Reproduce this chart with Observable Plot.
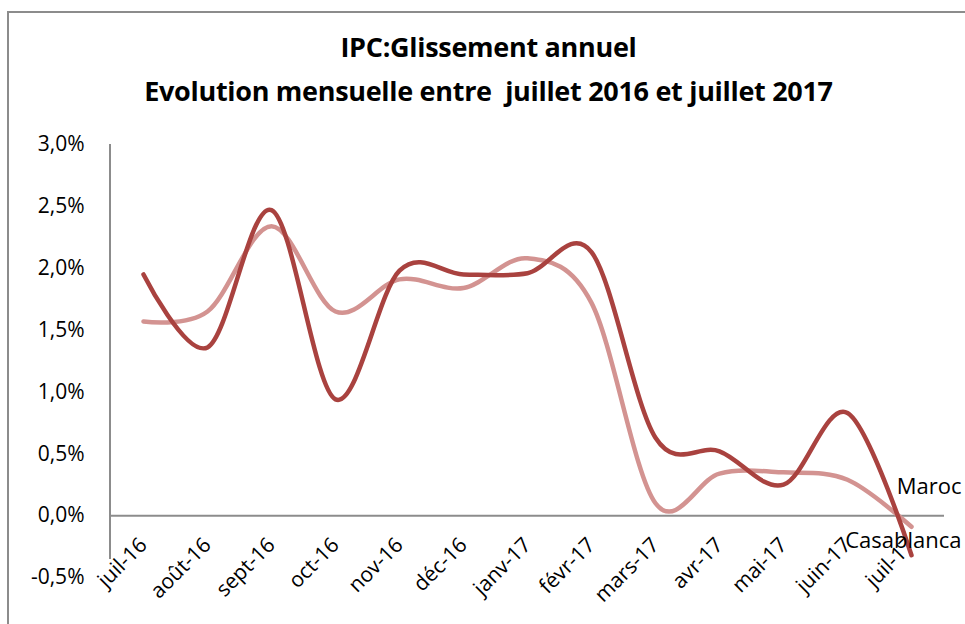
<!DOCTYPE html>
<html>
<head>
<meta charset="utf-8">
<script src="https://cdn.jsdelivr.net/npm/d3@7"></script>
<script src="https://cdn.jsdelivr.net/npm/@observablehq/plot@0.6"></script>
<style>
  html, body { margin: 0; padding: 0; background: #fff; }
  body { width: 965px; height: 624px; position: relative; overflow: hidden; font-family: "Open Sans", "Noto Sans", sans-serif; }
  #frame { position: absolute; left: 7px; top: 11px; width: 1000px; height: 700px; border: 2px solid #8c8c8c; box-sizing: border-box; }
  #title { position: absolute; left: 0; top: 25px; width: 977px; text-align: center; font-family: "Open Sans", sans-serif; font-weight: bold; font-size: 27px; line-height: 44px; color: #000; letter-spacing: -0.3px; }
  #chart { position: absolute; left: 0; top: 124px; }
</style>
</head>
<body>
<div id="frame"></div>
<div id="title">IPC:Glissement annuel<br>Evolution mensuelle entre&nbsp; juillet 2016 et juillet 2017</div>
<div id="chart"></div>
<script>
const months = ["juil-16","août-16","sept-16","oct-16","nov-16","déc-16","janv-17","févr-17","mars-17","avr-17","mai-17","juin-17","juil-17"];
const maroc = [1.95, 1.36, 2.47, 0.94, 1.98, 1.95, 1.96, 2.13, 0.63, 0.52, 0.25, 0.83, -0.32];
const casablanca = [1.57, 1.65, 2.34, 1.65, 1.91, 1.84, 2.08, 1.72, 0.10, 0.34, 0.35, 0.29, -0.09];
const yTicks = [-0.5, 0, 0.5, 1, 1.5, 2, 2.5, 3];
const seriesNames = ["Maroc", "Casablanca"];
const seriesColors = ["#a9423f", "#d39391"];

const rows = [];
months.forEach((m, i) => {
  rows.push({month: m, value: maroc[i], series: seriesNames[0]});
  rows.push({month: m, value: casablanca[i], series: seriesNames[1]});
});
const last = months.length - 1;
const marocLabel = [{month: months[last], value: maroc[last], series: seriesNames[0]}];
const casaLabel = [{month: months[last], value: casablanca[last], series: seriesNames[1]}];

const fmt = d => d.toFixed(1).replace(".", ",") + "%";
const font = "'Open Sans', sans-serif";

const yAxisLine = (index, scales, values, dimensions) => {
  const svg = d3.create("svg:g");
  const x0 = dimensions.marginLeft;
  svg.append("line")
    .attr("x1", x0).attr("x2", x0)
    .attr("y1", scales.y(yTicks[yTicks.length - 1]))
    .attr("y2", scales.y(yTicks[0]) - 18)
    .attr("stroke", "#8c8c8c").attr("stroke-width", 2);
  return svg.node();
};

const plot = Plot.plot({
  width: 965,
  height: 500,
  marginTop: 20,
  marginBottom: 47,
  marginLeft: 110,
  marginRight: 21,
  style: {fontFamily: font, fontSize: "21px", color: "#000", background: "transparent", overflow: "visible"},
  x: {type: "point", domain: months, padding: 0.5, label: null},
  y: {domain: [-0.5, 3], label: null},
  color: {domain: seriesNames, range: seriesColors},
  marks: [
    Plot.ruleY([0], {stroke: "#8c8c8c", strokeWidth: 2, strokeOpacity: 1}),
    yAxisLine,
    Plot.axisY({ticks: yTicks, tickFormat: fmt, tickSize: 0, tickPadding: 26, fontSize: 21, label: null}),
    Plot.axisX({tickSize: 0, tickRotate: -45, tickPadding: 4, fontSize: 21, label: null, dx: 0, dy: -40}),
    Plot.line(rows.filter(d => d.series === seriesNames[1]), {x: "month", y: "value", stroke: "series", strokeWidth: 4.5, curve: "cardinal"}),
    Plot.line(rows.filter(d => d.series === seriesNames[0]), {x: "month", y: "value", stroke: "series", strokeWidth: 4.5, curve: "cardinal"}),
    Plot.text(marocLabel, {x: "month", y: "value", text: "series", dy: -68, dx: 50, textAnchor: "end", fontSize: 22, fill: "#000"}),
    Plot.text(casaLabel, {x: "month", y: "value", text: "series", dy: 14, dx: 50, textAnchor: "end", fontSize: 22, fill: "#000"})
  ]
});
document.getElementById("chart").appendChild(plot);
</script>
</body>
</html>
